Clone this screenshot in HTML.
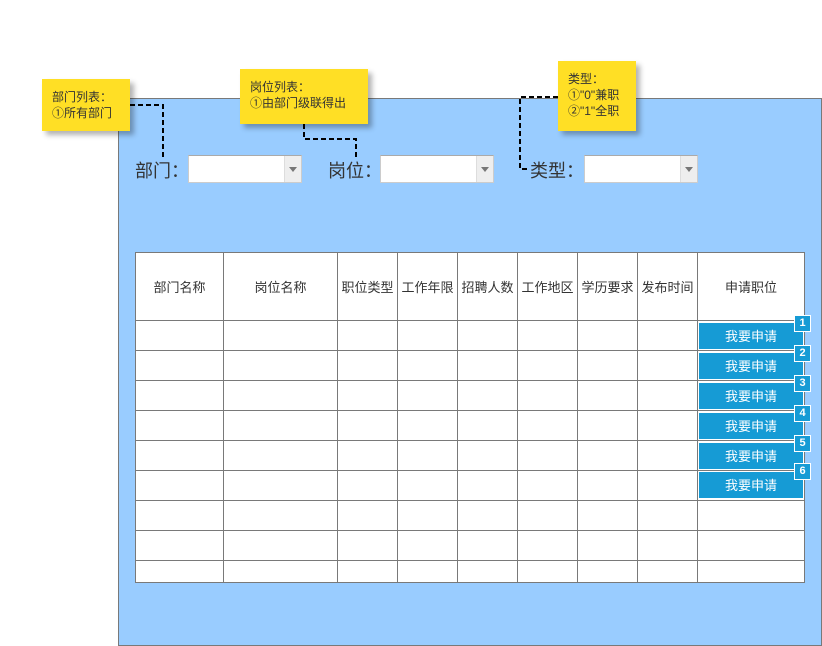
<!DOCTYPE html>
<html><head><meta charset="utf-8"><style>
body{margin:0;width:822px;height:646px;background:#fff;position:relative;overflow:hidden;font-family:"Liberation Sans","Noto Sans CJK SC",sans-serif;}
.abs{position:absolute}
.panel{left:118px;top:98px;width:702px;height:546px;background:#99ccff;border:1px solid #797979;}
.note{background:#ffdf25;box-shadow:4px 4px 5px rgba(0,0,0,.3);font-size:12px;color:#333;line-height:16px;padding:9px 10px;box-sizing:border-box}
.lbl{font-size:18px;color:#333}
.sel{background:#fff;border:1px solid #ccc;border-top-color:#aaa;box-sizing:border-box;height:28px;width:114px}
.sel:after{content:"";position:absolute;right:0;top:0;width:16px;height:26px;background:#eee;border-left:1px solid #ddd}
.sel:before{content:"";position:absolute;right:4px;top:11px;border-left:4px solid transparent;border-right:4px solid transparent;border-top:5px solid #777;z-index:2}
table{border-collapse:collapse;background:#fff;position:absolute;left:135px;top:252px}
td{border:1px solid #797979;padding:0;font-size:13px;color:#333;text-align:center}
.btn{left:699px;width:104px;height:26px;background:#169bd5;color:#fff;font-size:13px;text-align:center;line-height:28px}
.bd{width:15px;height:15px;background:#169bd5;border:1px solid #fff;color:#fff;font-size:11px;font-weight:bold;text-align:center;line-height:15px}
</style></head><body>
<div class="abs panel"></div>
<svg class="abs" style="left:0;top:0" width="822" height="646">
<g fill="none" stroke="#000" stroke-width="2" stroke-dasharray="5,3">
<path d="M130 105 H163 V157"/>
<path d="M304 124 V139 H356 V157"/>
<path d="M558 97 H520 V169 H530"/>
</g></svg>
<div class="abs note" style="left:42px;top:79px;width:88px;height:52px;padding-top:10px">部门列表：<br>①所有部门</div>
<div class="abs note" style="left:240px;top:69px;width:128px;height:55px;padding-top:10px">岗位列表：<br>①由部门级联得出</div>
<div class="abs note" style="left:558px;top:61px;width:78px;height:70px;padding-top:10px">类型：<br>①"0"兼职<br>②"1"全职</div>
<div class="abs lbl" style="left:135px;top:157px">部门：</div>
<div class="abs sel" style="left:188px;top:155px"></div>
<div class="abs lbl" style="left:328px;top:157px">岗位：</div>
<div class="abs sel" style="left:380px;top:155px"></div>
<div class="abs lbl" style="left:530px;top:157px">类型：</div>
<div class="abs sel" style="left:584px;top:155px"></div>
<table>
<tr style="height:68px"><td style="width:87px">部门名称</td><td style="width:113px">岗位名称</td><td style="width:59px">职位类型</td><td style="width:59px">工作年限</td><td style="width:59px">招聘人数</td><td style="width:59px">工作地区</td><td style="width:59px">学历要求</td><td style="width:59px">发布时间</td><td style="width:106px">申请职位</td></tr>
<tr style="height:30px"><td></td><td></td><td></td><td></td><td></td><td></td><td></td><td></td><td></td></tr>
<tr style="height:30px"><td></td><td></td><td></td><td></td><td></td><td></td><td></td><td></td><td></td></tr>
<tr style="height:30px"><td></td><td></td><td></td><td></td><td></td><td></td><td></td><td></td><td></td></tr>
<tr style="height:30px"><td></td><td></td><td></td><td></td><td></td><td></td><td></td><td></td><td></td></tr>
<tr style="height:30px"><td></td><td></td><td></td><td></td><td></td><td></td><td></td><td></td><td></td></tr>
<tr style="height:30px"><td></td><td></td><td></td><td></td><td></td><td></td><td></td><td></td><td></td></tr>
<tr style="height:30px"><td></td><td></td><td></td><td></td><td></td><td></td><td></td><td></td><td></td></tr>
<tr style="height:30px"><td></td><td></td><td></td><td></td><td></td><td></td><td></td><td></td><td></td></tr>
<tr style="height:22px"><td></td><td></td><td></td><td></td><td></td><td></td><td></td><td></td><td></td></tr>
</table>
<div class="abs btn" style="top:323px">我要申请</div>
<div class="abs btn" style="top:353px">我要申请</div>
<div class="abs btn" style="top:383px">我要申请</div>
<div class="abs btn" style="top:413px">我要申请</div>
<div class="abs btn" style="top:443px">我要申请</div>
<div class="abs btn" style="top:472px">我要申请</div>
<div class="abs bd" style="left:794px;top:315px">1</div>
<div class="abs bd" style="left:794px;top:345px">2</div>
<div class="abs bd" style="left:794px;top:375px">3</div>
<div class="abs bd" style="left:794px;top:405px">4</div>
<div class="abs bd" style="left:794px;top:435px">5</div>
<div class="abs bd" style="left:794px;top:463px">6</div>
</body></html>
